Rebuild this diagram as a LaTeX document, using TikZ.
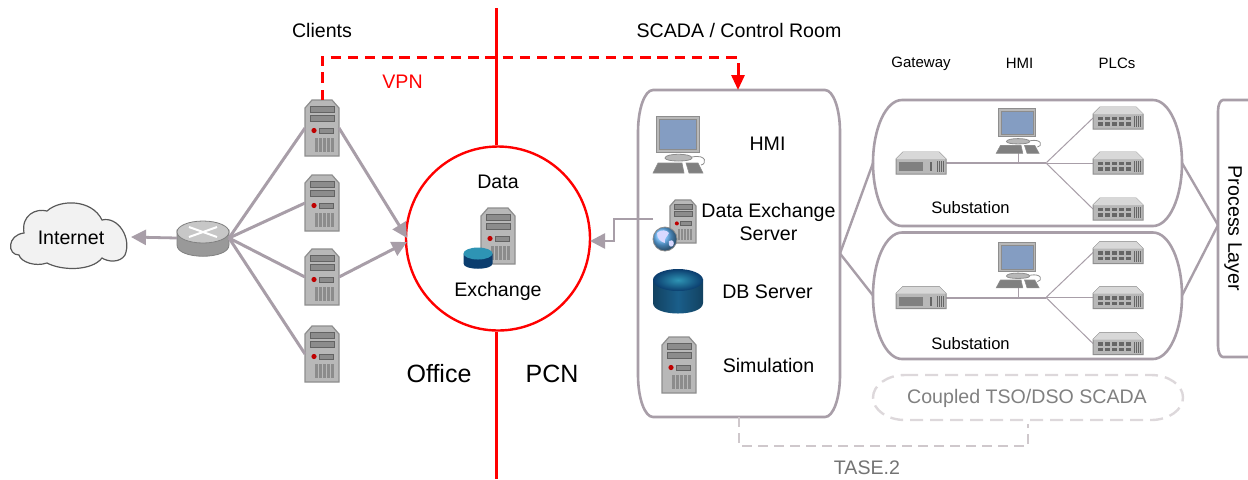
\documentclass[tikz,border=0pt]{standalone}
\usepackage{fontspec}
\setmainfont{Liberation Sans}
\usetikzlibrary{arrows.meta,shapes.geometric}
\definecolor{mauve}{HTML}{A89EA8}
\definecolor{redline}{HTML}{FF0000}
\definecolor{srvfill}{HTML}{B8B8B8}
\definecolor{srvedge}{HTML}{8E8E8E}
\definecolor{srvdark}{HTML}{8C8C8C}
\definecolor{dashgrey}{HTML}{CFC8CC}
\definecolor{dashlight}{HTML}{DDD8DB}
\definecolor{screenblue}{HTML}{849DC2}
\definecolor{dbside}{HTML}{1A5E8A}
\definecolor{dbtop}{HTML}{2E94B4}
\definecolor{navy}{HTML}{0B3D6E}
\newcommand{\softpath}[6]{%
 (#1+#5,#2) -- (#3-#5,#2) arc[start angle=-90,end angle=0,x radius=#5,y radius=#6]
 -- (#3,#4-#6) arc[start angle=0,end angle=90,x radius=#5,y radius=#6]
 -- (#1+#5,#4) arc[start angle=90,end angle=180,x radius=#5,y radius=#6]
 -- (#1,#2+#6) arc[start angle=180,end angle=270,x radius=#5,y radius=#6] -- cycle}
\tikzset{
 x=0.5pt,y=-0.5pt,
 anchorbox/.style={inner sep=0pt,outer sep=0pt,minimum width=#1},
 link/.style={draw=mauve,line width=1.5pt},
 arrowlink/.style={link,-{Triangle[length=7.5pt,width=7.5pt]}},
 thinlink/.style={draw=mauve,line width=0.5pt},
 redbar/.style={draw=redline,line width=1.5pt},
 vpnline/.style={draw=redline,line width=1.5pt,dash pattern=on 5.2pt off 3.4pt},
 panel/.style={draw=mauve,line width=1.3pt,fill=white},
 ghost/.style={draw=dashgrey,line width=1.2pt,dash pattern=on 5pt off 3pt},
 ghostbox/.style={draw=dashlight,line width=1.2pt,dash pattern=on 6.5pt off 3.5pt},
 lbl/.style={font=\fontsize{9.8}{11.6}\selectfont,text=black,inner sep=0pt},
 lblsub/.style={font=\fontsize{8.3}{10}\selectfont,text=black,inner sep=0pt},
 lblsmall/.style={font=\fontsize{7.5}{9}\selectfont,text=black,inner sep=0pt},
 lblbig/.style={font=\fontsize{12.5}{14}\selectfont,text=black,inner sep=0pt},
 server/.pic={
  \path[fill=srvfill,draw=srvedge,line width=0.6pt] (-17,28)--(-17,-20)--(-10,-28)--(10,-28)--(17,-20)--(17,28)--cycle;
  \path[fill=srvdark,draw=srvedge!70!black,line width=0.2pt] (-12,-22) rectangle (12,-15.5);
  \path[fill=srvdark,draw=srvedge!70!black,line width=0.2pt] (-12,-13) rectangle (12,-6.5);
  \path[fill=red!75!black] (-8,2.5) circle (2.6);
  \path[fill=srvdark,draw=srvedge!70!black,line width=0.2pt] (-3,0) rectangle (11,5);
  \foreach \q in {-7,-3,1,5,9}{\path[fill=srvdark] (\q,10) rectangle ++(3,14);}
 },
 switchbox/.pic={
  \path[fill=srvfill,draw=srvedge,line width=0.5pt] (-25,-4)--(-18,-11)--(18,-11)--(25,-4)--(25,11)--(-25,11)--cycle;
  \path[fill=srvfill!55!white] (-25,-4)--(-18,-11)--(18,-11)--(25,-4)--cycle;
  \foreach \u in {-20,-13,-6,1,8}{\path[fill=black!60] (\u,-1.5) rectangle ++(5,3.5);\path[fill=black!60] (\u,4) rectangle ++(5,3.5);}
  \foreach \u in {16,18,20,22}{\path[fill=black!60] (\u,-2) rectangle ++(1.2,11);}
 },
 gatewaybox/.pic={
  \path[fill=srvfill,draw=srvedge,line width=0.5pt] (-25,-4)--(-18,-11)--(18,-11)--(25,-4)--(25,11)--(-25,11)--cycle;
  \path[fill=srvfill!55!white] (-25,-4)--(-18,-11)--(18,-11)--(25,-4)--cycle;
  \path[fill=black!50] (-22,-1) rectangle (2,8);
  \path[fill=black!60] (9,-1) rectangle (10.5,8);
  \foreach \u in {16,18,20,22}{\path[fill=black!60] (\u,-2) rectangle ++(1.2,11);}
 },
 monitor/.pic={
  \path[fill=srvfill,draw=srvedge,line width=0.5pt] (-23,-28) rectangle (20,8);
  \path[fill=screenblue,draw=black!45,line width=0.2pt] (-20,-25) rectangle (17.5,5);
  \path[fill=srvfill,draw=srvedge,line width=0.4pt] (-14,14) .. controls (-14,9) and (13,9) .. (13,14) .. controls (13,18) and (-14,18) .. (-14,14) -- cycle;
  \path[draw=srvedge,line width=0.4pt] (13,13) .. controls (28,10) and (28,20) .. (22,21);
  \path[fill=black!50,draw=srvedge,line width=0.3pt] (-21,19)--(3,19)--(5,29)--(-26,29)--cycle;
  \path[fill=black!50,draw=srvedge,line width=0.3pt] (7,19)--(19,19)--(24,29)--(10,29)--cycle;
 },
 globe/.pic={
  \path[ball color=blue!45!cyan!60!white,draw=black!45,line width=0.4pt] (0,0) circle (12);
  \path[fill=white!85!blue] (-8,-6) .. controls (-4,-10) and (2,-9) .. (4,-6) .. controls (2,-2) and (-1,-1) .. (0,4) .. controls (-4,3) and (-8,0) .. (-8,-6) -- cycle;
  \path[fill=white!85!blue] (4,2) .. controls (8,0) and (10,3) .. (8,7) .. controls (5,9) and (3,6) .. (4,2) -- cycle;
 },
 dbbig/.pic={
  \path[left color=dbside!70!black,right color=dbside!70!black,middle color=dbside] (-25,-12) -- (-25,12) .. controls (-25,26) and (25,26) .. (25,12) -- (25,-12) -- cycle;
  \path[inner color=dbtop,outer color=navy] (0,-11) ellipse [x radius=25,y radius=11];
 },
 dbsmall/.pic={
  \path[fill=navy] (-14.5,-4) -- (-14.5,6) .. controls (-14.5,13) and (14.5,13) .. (14.5,6) -- (14.5,-4) -- cycle;
  \path[fill=dbtop] (0,-4) ellipse [x radius=14.5,y radius=6];
 },
 routericon/.pic={
  \path[fill=black!40!white,draw=black!50,line width=0.4pt] (-26,-8) -- (-26,7) .. controls (-26,22) and (26,22) .. (26,7) -- (26,-8) -- cycle;
  \path[fill=black!22!white,draw=black!50,line width=0.4pt] (0,-6) ellipse [x radius=26,y radius=11];
  \path[draw=white,line width=1pt] (-14,-11)--(14,-1) (-14,-1)--(14,-11);
 },
}
\begin{document}
\begin{tikzpicture}
\useasboundingbox (0,0) rectangle (1248,479);
% office / PCN divide
\coordinate (barTop) at (496,8);
\coordinate (barBot) at (496,479);
\node[circle,draw=redline,line width=1.2pt,fill=white,minimum size=92pt,inner sep=0pt] (dx) at (498,238.5) {};
\draw[redbar] (barTop) -- (dx.north -| barTop);
\draw[redbar] (dx.south -| barBot) -- (barBot);
% panels
\node[anchorbox=101pt,minimum height=163.5pt] (room) at (739,253.5) {};
\node[anchorbox=154.5pt,minimum height=63pt] (sub1) at (1027.5,163) {};
\node[anchorbox=154.5pt,minimum height=63.5pt] (sub2) at (1027.5,295.5) {};
\node[anchorbox=15pt,minimum height=128.5pt] (proc) at (1233,228.5) {};
\node[anchorbox=155pt,minimum height=22.5pt] (tso) at (1028,397.5) {};
\path[panel] \softpath{638}{90}{840}{417}{15}{42};
\path[panel] \softpath{873}{100}{1182}{226}{29}{63};
\path[panel] \softpath{873}{232.5}{1182}{359}{29}{63};
\path[panel] (1254,100) -- (1223,100) arc[start angle=270,end angle=180,x radius=5,y radius=11] -- (1218,346) arc[start angle=180,end angle=90,x radius=5,y radius=11] -- (1254,357);
\path[ghostbox] \softpath{873}{375}{1183}{420}{32}{22.5};
\node[lbl,rotate=-90] at (proc) {Process Layer};
% icons as named anchors
\foreach \n/\x/\y in {s1/322/128,s2/322/203,s3/322/277,s4/322/354,sx/498/236,ss/679/365}{
 \node[anchorbox=17pt,minimum height=28pt] (\n) at (\x,\y) {};
 \pic at (\n) {server};
}
\node[anchorbox=13pt,minimum height=21.5pt] (sd) at (683,221.5) {};
\pic[scale=.77] at (sd) {server};
\pic at (665,239) {globe};
\pic at (478,257.5) {dbsmall};
\node[anchorbox=26pt,minimum height=17pt] (r) at (203,238) {};
\pic at (r) {routericon};
\node[anchorbox=26pt,minimum height=28pt] (h0) at (679,144) {};
\pic at (h0) {monitor};
\pic at (678,291) {dbbig};
% cloud
\node[anchorbox=62pt,minimum height=32pt] (net) at (69,237) {};
\path[fill=black!5,draw=black!65,line width=0.6pt]
 (24,233) .. controls (21,215) and (36,208) .. (47,211)
 .. controls (60,199) and (92,199) .. (102,220)
 .. controls (118,216) and (132,238) .. (125,255)
 .. controls (120,263) and (108,262) .. (102,258)
 .. controls (92,271) and (62,271) .. (47,263)
 .. controls (35,267) and (21,262) .. (19,255)
 .. controls (7,255) and (7,235) .. (24,233) -- cycle;
% substation contents
\foreach \b/\dy/\ly in {a/0/207.5,b/134.5/343.5}{
 \node[anchorbox=25pt,minimum height=11pt] (gw\b) at (921,163+\dy) {};
 \node[inner sep=0pt,minimum size=0pt] (hub\b) at (1046,163+\dy) {};
 \node[anchorbox=22pt,minimum height=22pt] (hm\b) at (1018.5,130.5+\dy) {};
 \node[anchorbox=25pt,minimum height=11pt] (p1\b) at (1118,118+\dy) {};
 \node[anchorbox=25pt,minimum height=11pt] (p2\b) at (1118,163+\dy) {};
 \node[anchorbox=25pt,minimum height=11pt] (p3\b) at (1118,209+\dy) {};
 \draw[link,line width=1pt] (gw\b.east) -- (hub\b);
 \draw[thinlink] (hm\b.south) -- (hm\b.south |- hub\b);
 \draw[thinlink] (hub\b) -- (p1\b.west);
 \draw[thinlink] (hub\b) -- (p2\b.west);
 \draw[thinlink] (hub\b) -- (p3\b.west);
 \pic at (gw\b) {gatewaybox};
 \pic[xscale=.86,yscale=.79] at (hm\b) {monitor};
 \pic at (p1\b) {switchbox};
 \pic at (p2\b) {switchbox};
 \pic at (p3\b) {switchbox};
 \node[lblsub] at (970.5,\ly) {Substation};
}
% connectors
\coordinate (dxIn1) at (407,238);
\coordinate (dxIn2) at (407,242);
\coordinate (dxIn3) at (590,241);
\coordinate (sdOut) at (653,219);
\coordinate (procIn) at (1218,225);
\coordinate (vpnGap) at (738,63);
\draw[arrowlink,line width=1.4pt] (r.west) -- (net.east);
\foreach \n in {s1,s2,s3,s4}{\draw[link] (r.east) -- (\n.west);}
\draw[arrowlink] (s1.east) -- (dxIn1);
\draw[arrowlink] (s3.east) -- (dxIn2);
\draw[link,line width=1.3pt,-{Triangle[length=7.5pt,width=7.5pt]}] (sdOut) -- (614,219) -- (614,241) -- (dxIn3);
\draw[link,line width=1.2pt] (room.east) -- (sub1.west);
\draw[link,line width=1.2pt] (room.east) -- (sub2.west);
\draw[link,line width=1.2pt] (sub1.east) -- (procIn);
\draw[link,line width=1.2pt] (sub2.east) -- (procIn);
\draw[vpnline] (s1.north) -- (322,57) -- (738,57);
\draw[redline,line width=1.5pt,-{Triangle[length=7.5pt,width=6.5pt]}] (vpnGap) -- (vpnGap |- room.north);
\draw[ghost] (room.south -| 739,0) -- (739,446) -- (1028,446) -- (1028,424);
% labels
\node[lbl] at (322,30) {Clients};
\node[lbl] at (739,30) {SCADA / Control Room};
\node[lbl,text=redline] at (402.5,82) {VPN};
\node[lbl] at (71,237.5) {Internet};
\node[lbl] at (498,181.5) {Data};
\node[lbl] at (498,291.5) {Exchange};
\node[lblbig] at (439,374) {Office};
\node[lblbig] at (552,374) {PCN};
\node[lbl] at (767.5,143.5) {HMI};
\node[lbl,align=center] at (768.5,222) {Data Exchange\\Server};
\node[lbl] at (767.5,291.5) {DB Server};
\node[lbl] at (768.5,365) {Simulation};
\node[lblsmall] at (921,63.5) {Gateway};
\node[lblsmall] at (1019.5,63.5) {HMI};
\node[lblsmall] at (1117,63.5) {PLCs};
\node[lbl,text=black!50] at (1027,398) {Coupled TSO/DSO SCADA};
\node[lbl,text=black!55] at (867,467.5) {TASE.2};
\end{tikzpicture}
\end{document}
